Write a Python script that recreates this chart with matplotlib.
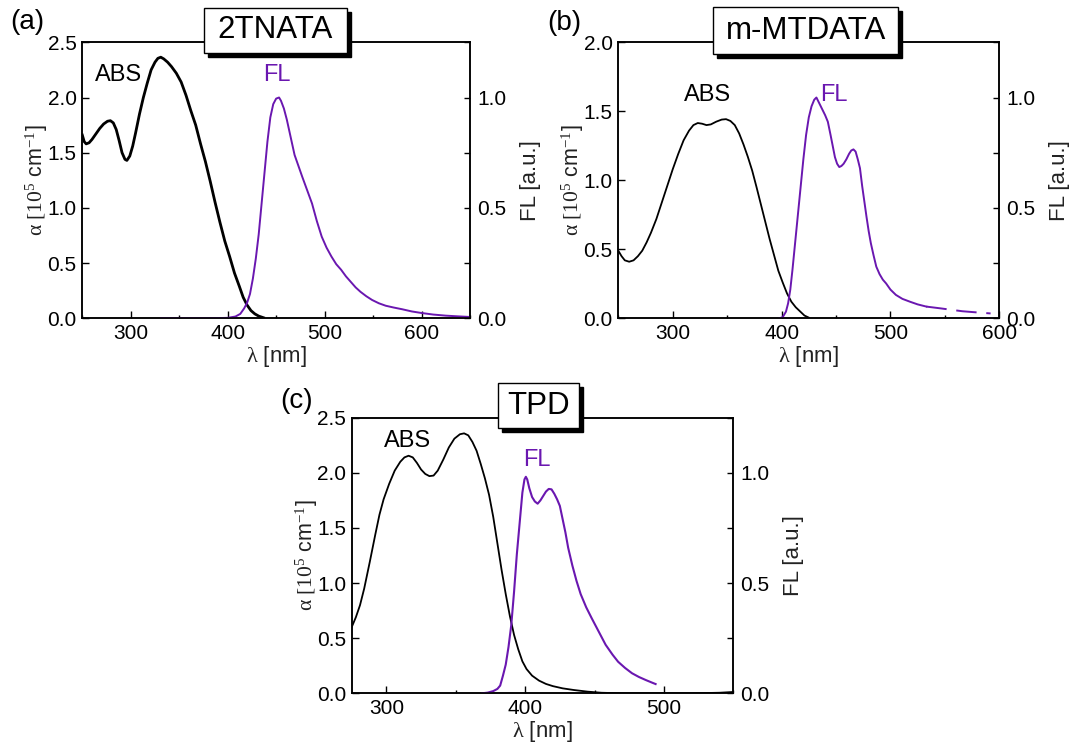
import numpy as np
import matplotlib
matplotlib.use("Agg")
from matplotlib import pyplot as plt, ticker as mticker
from matplotlib.patches import Rectangle

plt.rcParams['font.family'] = ['Liberation Sans', 'DejaVu Sans']
plt.rcParams['mathtext.fontset'] = 'custom'
plt.rcParams['mathtext.rm'] = 'Liberation Serif'
plt.rcParams['mathtext.it'] = 'Liberation Serif'

PURPLE = '#6a17b0'

# (a) 2TNATA
a_abs_wl = [250, 252, 254, 257, 260, 264, 268, 272, 276, 279, 282, 285, 288, 291, 294, 296, 299,
            302, 305, 309, 313, 317, 321, 325, 328, 331, 334, 338, 342, 347, 352, 357, 362, 367,
            372, 377, 382, 387, 392, 397, 402, 407, 412, 416, 420, 424, 428, 432, 437]
a_abs = [1.66, 1.60, 1.58, 1.59, 1.62, 1.67, 1.72, 1.76, 1.785, 1.79, 1.77, 1.71, 1.61, 1.50, 1.44,
         1.43, 1.47, 1.56, 1.68, 1.85, 2.00, 2.13, 2.25, 2.32, 2.355, 2.365, 2.35, 2.32, 2.28, 2.22,
         2.14, 2.02, 1.88, 1.75, 1.58, 1.42, 1.24, 1.05, 0.87, 0.70, 0.56, 0.41, 0.29, 0.19, 0.12,
         0.07, 0.04, 0.02, 0.005]
a_fl_wl = [331, 380, 400, 408, 413, 417, 420, 423, 426, 429, 432, 435, 438, 441, 444, 447, 450,
           453, 455, 458, 461, 465, 469, 473, 477, 482, 487, 492, 497, 502, 507, 512, 517, 522,
           527, 532, 537, 543, 549, 556, 563, 571, 580, 590, 600, 612, 625, 637, 650]
a_fl = [0.0, 0.0, 0.002, 0.008, 0.02, 0.045, 0.07, 0.11, 0.18, 0.27, 0.38, 0.52, 0.66, 0.80, 0.91,
        0.97, 0.995, 1.0, 0.985, 0.95, 0.90, 0.82, 0.74, 0.69, 0.64, 0.58, 0.52, 0.44, 0.37, 0.32,
        0.28, 0.245, 0.22, 0.19, 0.165, 0.14, 0.12, 0.10, 0.083, 0.068, 0.057, 0.049, 0.041,
        0.031, 0.024, 0.017, 0.012, 0.009, 0.006]

# (b) m-MTDATA
b_abs_wl = [250, 253, 256, 260, 264, 268, 272, 276, 280, 285, 290, 295, 300, 305, 310, 315, 319,
            323, 327, 331, 335, 340, 345, 349, 353, 357, 361, 365, 369, 373, 377, 381, 385, 389,
            393, 397, 401, 405, 409, 413, 417, 421, 425]
b_abs = [0.49, 0.45, 0.42, 0.41, 0.42, 0.45, 0.49, 0.55, 0.62, 0.72, 0.84, 0.96, 1.08, 1.19, 1.29,
         1.36, 1.40, 1.415, 1.41, 1.40, 1.405, 1.425, 1.44, 1.443, 1.43, 1.40, 1.34, 1.26, 1.17,
         1.07, 0.95, 0.825, 0.70, 0.575, 0.46, 0.345, 0.26, 0.18, 0.12, 0.08, 0.05, 0.02, 0.005]
b_fl_wl = [398, 401, 404, 406, 408, 410, 412, 414, 416, 418, 420, 422.5, 425, 427.5, 430, 432, 434,
           436, 438, 440, 442.5, 445, 447, 449, 451, 453, 455, 457, 459.5, 462, 464, 466, 468, 470,
           472, 474, 476, 478, 480, 482, 484.5, 487, 490, 493, 496, 500, 505, 511, 518, 525, 533]
b_fl = [0.0, 0.005, 0.03, 0.068, 0.13, 0.22, 0.32, 0.42, 0.52, 0.62, 0.72, 0.83, 0.91, 0.96, 0.99,
        1.0, 0.98, 0.96, 0.94, 0.92, 0.89, 0.83, 0.78, 0.73, 0.70, 0.685, 0.69, 0.70, 0.72, 0.745,
        0.76, 0.765, 0.755, 0.72, 0.68, 0.60, 0.53, 0.46, 0.395, 0.34, 0.285, 0.234, 0.20, 0.175,
        0.158, 0.13, 0.106, 0.088, 0.075, 0.063, 0.053]
b_tail_wl = [533, 546, 566, 576, 592]
b_tail = [0.053, 0.045, 0.032, 0.028, 0.022]

# (c) TPD
c_abs_wl = [275, 278, 281, 284, 288, 292, 295, 298, 302, 306, 310, 313, 316, 319, 322, 325, 328,
            331, 334, 337, 341, 345, 349, 353, 356, 359, 362, 365, 368, 371, 374, 377, 380, 383,
            386, 389, 392, 395, 398, 401, 405, 410, 415, 420, 427, 435, 445, 455, 470, 520, 540, 550]
c_abs = [0.60, 0.69, 0.80, 0.95, 1.19, 1.44, 1.62, 1.76, 1.90, 2.02, 2.10, 2.14, 2.155, 2.14, 2.09,
         2.03, 1.99, 1.97, 1.975, 2.02, 2.12, 2.23, 2.31, 2.35, 2.358, 2.34, 2.28, 2.20, 2.08, 1.95,
         1.80, 1.60, 1.36, 1.12, 0.90, 0.70, 0.53, 0.40, 0.29, 0.22, 0.16, 0.115, 0.085, 0.065,
         0.045, 0.03, 0.015, 0.005, 0.0, 0.0, 0.005, 0.012]
c_fl_wl = [369, 373, 377, 380, 382, 384, 386, 388, 390, 392, 394, 396, 398, 399.5, 400.5, 401.5,
           403, 405, 407, 409, 411, 413, 415, 417, 419, 421, 423, 425, 427, 429, 431, 434, 437,
           440, 444, 448, 453, 458, 463, 467, 472, 477, 482, 487, 492, 494]
c_fl = [0.0, 0.003, 0.01, 0.02, 0.035, 0.08, 0.13, 0.21, 0.31, 0.46, 0.63, 0.77, 0.91, 0.97, 0.982,
        0.97, 0.93, 0.89, 0.87, 0.86, 0.875, 0.895, 0.915, 0.927, 0.925, 0.905, 0.88, 0.85, 0.79,
        0.73, 0.66, 0.58, 0.51, 0.45, 0.39, 0.34, 0.28, 0.22, 0.175, 0.143, 0.115, 0.091, 0.074,
        0.06, 0.047, 0.042]

W, H = 1073, 744


def fx(px):
    return px / W


def fy(py):
    return 1 - py / H


def setup(ax, ax2, xlim, ylim, xticks):
    ax.set_xlim(*xlim)
    ax.set_ylim(*ylim)
    ax2.set_ylim(0, 1.25)
    ax.set_xticks(xticks)
    ax.xaxis.set_minor_locator(mticker.MultipleLocator(50))
    ax.yaxis.set_major_locator(mticker.MultipleLocator(0.5))
    ax.yaxis.set_major_formatter(mticker.FormatStrFormatter('%.1f'))
    ax2.yaxis.set_major_locator(mticker.MultipleLocator(0.5))
    ax2.yaxis.set_minor_locator(mticker.MultipleLocator(0.25))
    ax2.yaxis.set_major_formatter(mticker.FormatStrFormatter('%.1f'))
    ax.tick_params(axis='both', which='major', direction='in', length=5, width=1,
                   labelsize=15, pad=4, top=False, right=False)
    ax.tick_params(axis='x', which='minor', direction='in', length=2.5, width=1, top=False)
    ax2.tick_params(axis='y', which='both', direction='in', length=4.5, width=1,
                    labelsize=15, pad=5)
    for a in (ax, ax2):
        for s in a.spines.values():
            s.set_linewidth(1.1)
    ax.set_xlabel(r'$\lambda$ [nm]', fontsize=16, color='#222222', labelpad=1)
    ax.set_ylabel(r'$\alpha\ [10^5$ cm$^{-1}$]', fontsize=15.5, color='#222222', labelpad=-2)
    ax2.set_ylabel('FL [a.u.]', fontsize=16, color='#222222', labelpad=10)


def title_box(fig, x0, y0, x1, y1, text):
    sh = 4
    fig.add_artist(Rectangle((fx(x0 + sh), fy(y1 + sh)), fx(x1 - x0), (y1 - y0) / H,
                             transform=fig.transFigure, facecolor='black', edgecolor='black',
                             zorder=5))
    fig.add_artist(Rectangle((fx(x0), fy(y1)), fx(x1 - x0), (y1 - y0) / H,
                             transform=fig.transFigure, facecolor='white', edgecolor='black',
                             linewidth=1, zorder=6))
    fig.text(fx((x0 + x1) / 2), fy((y0 + y1) / 2), text, fontsize=22.5, ha='center',
             va='center', zorder=7)


fig = plt.figure(figsize=(W / 100, H / 100), dpi=100)

# panel (a)
ax_a = fig.add_axes([fx(82.3), fy(318.3), fx(470 - 82.3), 276 / H])
ax_a2 = ax_a.twinx()
ax_a.plot(a_abs_wl, a_abs, color='black', lw=2.0)
ax_a2.plot(a_fl_wl, a_fl, color=PURPLE, lw=1.4)
setup(ax_a, ax_a2, (250, 650), (0, 2.5), [300, 400, 500, 600])
ax_a.text(287, 2.2, 'ABS', fontsize=17, ha='center', va='center')
ax_a.text(450.6, 2.2, 'FL', fontsize=17, ha='center', va='center', color=PURPLE)

# panel (b)
ax_b = fig.add_axes([fx(618.3), fy(318.3), fx(999.3 - 618.3), 276 / H])
ax_b2 = ax_b.twinx()
ax_b.plot(b_abs_wl, b_abs, color='black', lw=1.3)
ax_b2.plot(b_fl_wl, b_fl, color=PURPLE, lw=1.4)
ax_b2.plot(b_tail_wl, b_tail, color=PURPLE, lw=1.4, linestyle=(0, (10.5, 5)))
setup(ax_b, ax_b2, (250, 600), (0, 2.0), [300, 400, 500, 600])
ax_b.text(332.3, 1.618, 'ABS', fontsize=17, ha='center', va='center')
ax_b.text(448.3, 1.618, 'FL', fontsize=17, ha='center', va='center', color=PURPLE)

# panel (c)
ax_c = fig.add_axes([fx(351.7), fy(693.3), fx(733.3 - 351.7), 275.6 / H])
ax_c2 = ax_c.twinx()
ax_c.plot(c_abs_wl, c_abs, color='black', lw=1.3)
ax_c2.plot(c_fl_wl, c_fl, color=PURPLE, lw=1.5)
setup(ax_c, ax_c2, (275, 550), (0, 2.5), [300, 400, 500])
ax_c.text(315.4, 2.289, 'ABS', fontsize=17, ha='center', va='center')
ax_c.text(408.5, 2.116, 'FL', fontsize=17, ha='center', va='center', color=PURPLE)

title_box(fig, 204.3, 8.3, 346.7, 52.7, '2TNATA')
title_box(fig, 713.3, 7.3, 898.3, 54.3, 'm-MTDATA')
title_box(fig, 498.3, 383.3, 579.3, 427.7, 'TPD')

fig.text(fx(27), fy(22), '(a)', fontsize=20, ha='center', va='center')
fig.text(fx(564), fy(23), '(b)', fontsize=20, ha='center', va='center')
fig.text(fx(297), fy(401), '(c)', fontsize=20, ha='center', va='center')

fig.savefig('out.png', dpi=100)
